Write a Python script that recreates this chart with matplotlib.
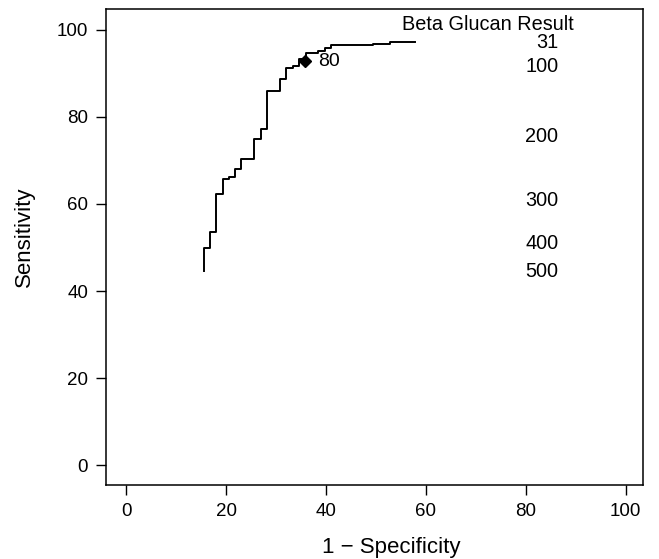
import numpy as np
import matplotlib
matplotlib.use('Agg')
import matplotlib.pyplot as plt

plt.rcParams['font.family'] = ['Liberation Sans', 'DejaVu Sans']

# ROC curve corner points (1 - specificity, sensitivity)
fpr = [15.5, 15.5, 16.7, 18.0, 19.3, 20.6, 21.9, 23.1, 25.7, 27.0, 28.3, 30.8,
       32.1, 33.5, 34.7, 36.0, 38.5, 39.8, 41.1, 49.4, 52.8, 57.8]
tpr = [44.6, 50.0, 53.5, 62.3, 65.7, 66.3, 68.0, 70.3, 75.0, 77.3, 86.0, 88.8,
       91.2, 91.8, 93.3, 94.6, 95.2, 95.8, 96.6, 96.7, 97.1, 97.1]

# highlighted cut-off
cut_x = 35.8
cut_y = 92.8
cut_label = '80'

# threshold labels on the right
thr_labels = ['31', '100', '200', '300', '400', '500']
thr_y = [97.0, 91.6, 75.4, 60.9, 51.0, 44.4]

fig = plt.figure(figsize=(6.59, 5.59), dpi=100)
ax = fig.add_axes([0.161, 0.132, 0.815, 0.852])

ax.step(fpr, tpr, where='post', color='black', lw=1.4)
ax.plot(cut_x, cut_y, marker='D', color='black', ms=6.3, ls='none')
ax.text(cut_x + 2.6, cut_y, cut_label, fontsize=14, va='center', ha='left')

ax.text(72.4, 101.2, 'Beta Glucan Result', fontsize=14.3, ha='center', va='center')
for lab, yy in zip(thr_labels, thr_y):
    ax.text(86.5, yy, lab, fontsize=14.3, ha='right', va='center')

ax.set_xlim(-4, 103.5)
ax.set_ylim(-4.6, 104.8)
ax.set_xticks([0, 20, 40, 60, 80, 100])
ax.set_yticks([0, 20, 40, 60, 80, 100])
ax.tick_params(direction='out', length=7, width=1, labelsize=13.5, pad=6)
for s in ax.spines.values():
    s.set_linewidth(1.1)

ax.set_xlabel('1 \u2212 Specificity', fontsize=16)
ax.set_ylabel('Sensitivity', fontsize=16)
# label centres placed in figure pixels
ax.xaxis.set_label_coords(391 / 659, 1 - 547 / 559, transform=fig.transFigure)
ax.yaxis.set_label_coords(24 / 659, 1 - 237 / 559, transform=fig.transFigure)
ax.xaxis.label.set_va('center')
ax.yaxis.label.set_va('center')

fig.savefig('out.png', dpi=100)
